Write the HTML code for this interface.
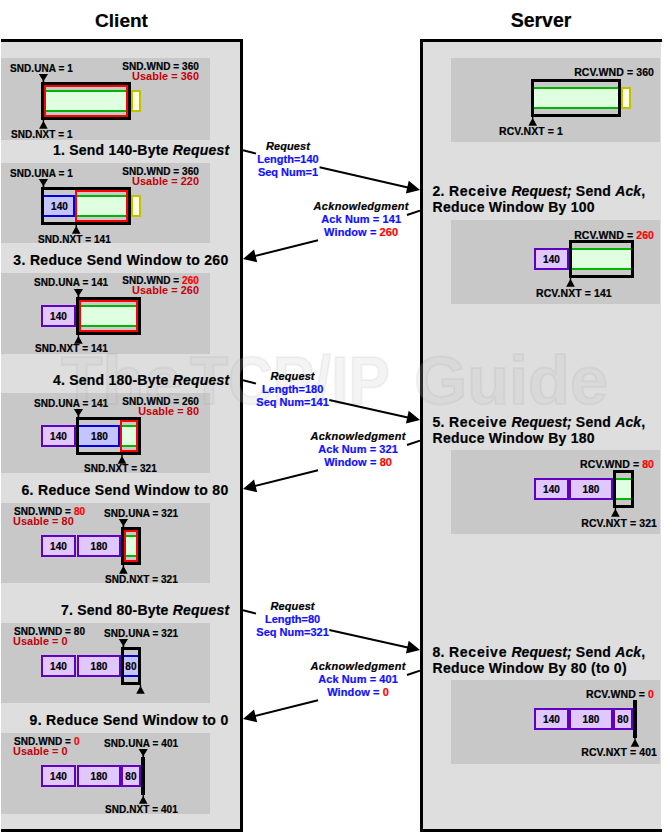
<!DOCTYPE html><html><head><meta charset="utf-8"><style>html,body{margin:0;padding:0;background:#fff;overflow:hidden}svg{display:block}text{font-family:"Liberation Sans",sans-serif;font-weight:bold;stroke-width:0.2px}</style></head><body>
<svg width="666" height="836" viewBox="0 0 666 836">
<text x="121.5" y="27" font-size="19" text-anchor="middle" fill="#000" stroke="#000" >Client</text>
<text x="541" y="27" font-size="19.5" text-anchor="middle" fill="#000" stroke="#000" >Server</text>
<rect x="1" y="42" width="239" height="787" fill="#dedede"/>
<rect x="1" y="39" width="242" height="3" fill="#000"/>
<rect x="240" y="39" width="3" height="793" fill="#000"/>
<rect x="1" y="829" width="242" height="3" fill="#000"/>
<rect x="423" y="42" width="238" height="787" fill="#dedede"/>
<rect x="420" y="39" width="242" height="3" fill="#000"/>
<rect x="420" y="39" width="3" height="793" fill="#000"/>
<rect x="420" y="829" width="242" height="3" fill="#000"/>
<rect x="1" y="58" width="209" height="82" fill="#c8c8c8"/>
<rect x="1" y="163" width="209" height="80" fill="#c8c8c8"/>
<rect x="1" y="273" width="209" height="81" fill="#c8c8c8"/>
<rect x="1" y="393" width="209" height="80" fill="#c8c8c8"/>
<rect x="1" y="503" width="209" height="80" fill="#c8c8c8"/>
<rect x="1" y="623" width="209" height="80" fill="#c8c8c8"/>
<rect x="1" y="733" width="209" height="81" fill="#c8c8c8"/>
<rect x="451" y="58" width="209" height="84" fill="#c8c8c8"/>
<rect x="451" y="220" width="209" height="84" fill="#c8c8c8"/>
<rect x="451" y="450" width="209" height="84" fill="#c8c8c8"/>
<rect x="451" y="680" width="209" height="84" fill="#c8c8c8"/>
<g font-size="68" fill="rgba(200,200,200,0.2)" stroke="rgba(120,120,120,0.08)">
<text x="61" y="404" textLength="121" lengthAdjust="spacingAndGlyphs" style="stroke-width:2px">The</text>
<text x="190" y="404" textLength="200" lengthAdjust="spacingAndGlyphs" style="stroke-width:2px">TCP/IP</text>
<text x="414" y="404" textLength="194" lengthAdjust="spacingAndGlyphs" style="stroke-width:2px">Guide</text>
</g>
<text x="229.5" y="154.7" font-size="14" text-anchor="end" fill="#000" stroke="#000" letter-spacing="0.22" >1. Send 140-Byte <tspan font-style="italic">Request</tspan></text>
<text x="228.6" y="265" font-size="14" text-anchor="end" fill="#000" stroke="#000" letter-spacing="0.33" >3. Reduce Send Window to 260</text>
<text x="229.5" y="384.7" font-size="14" text-anchor="end" fill="#000" stroke="#000" letter-spacing="0.22" >4. Send 180-Byte <tspan font-style="italic">Request</tspan></text>
<text x="228.6" y="495" font-size="14" text-anchor="end" fill="#000" stroke="#000" letter-spacing="0.33" >6. Reduce Send Window to 80</text>
<text x="229.5" y="614.7" font-size="14" text-anchor="end" fill="#000" stroke="#000" letter-spacing="0.22" >7. Send 80-Byte <tspan font-style="italic">Request</tspan></text>
<text x="228.6" y="725" font-size="14" text-anchor="end" fill="#000" stroke="#000" letter-spacing="0.33" >9. Reduce Send Window to 0</text>
<text x="432.5" y="196" font-size="14" text-anchor="start" fill="#000" stroke="#000" letter-spacing="0.27" >2. <tspan letter-spacing="0.77">Receive</tspan> <tspan font-style="italic" letter-spacing="0.05">Request;</tspan> Send <tspan font-style="italic" letter-spacing="0.05">Ack</tspan>,</text>
<text x="432.5" y="212" font-size="14" text-anchor="start" fill="#000" stroke="#000" letter-spacing="0.27" >Reduce Window By 100</text>
<text x="432.5" y="426.5" font-size="14" text-anchor="start" fill="#000" stroke="#000" letter-spacing="0.27" >5. <tspan letter-spacing="0.77">Receive</tspan> <tspan font-style="italic" letter-spacing="0.05">Request;</tspan> Send <tspan font-style="italic" letter-spacing="0.05">Ack</tspan>,</text>
<text x="432.5" y="442.5" font-size="14" text-anchor="start" fill="#000" stroke="#000" letter-spacing="0.27" >Reduce Window By 180</text>
<text x="432.5" y="656.5" font-size="14" text-anchor="start" fill="#000" stroke="#000" letter-spacing="0.27" >8. <tspan letter-spacing="0.77">Receive</tspan> <tspan font-style="italic" letter-spacing="0.05">Request;</tspan> Send <tspan font-style="italic" letter-spacing="0.05">Ack</tspan>,</text>
<text x="432.5" y="672.5" font-size="14" text-anchor="start" fill="#000" stroke="#000" letter-spacing="0.27" >Reduce Window By 80 (to 0)</text>
<text x="10" y="72.3" font-size="10" text-anchor="start" fill="#000" stroke="#000" letter-spacing="0.07" >SND.UNA = 1</text>
<text x="199" y="69.8" font-size="10" text-anchor="end" fill="#000" stroke="#000" letter-spacing="0.07" >SND.WND = 360</text>
<text x="199" y="79.8" font-size="10.9" text-anchor="end" fill="#c40008" stroke="none" letter-spacing="0.05" >Usable = 360</text>
<rect x="44" y="85" width="84" height="32" fill="#c9c9c9"/>
<rect x="44" y="85" width="84" height="32" fill="#ff0000"/>
<rect x="46" y="87" width="80" height="28" fill="#c9c9c9"/>
<rect x="46" y="90" width="80" height="22" fill="#00b400"/>
<rect x="46" y="92" width="80" height="18" fill="#e0ffe0"/>
<rect x="42.5" y="83.5" width="87" height="35" fill="none" stroke="#000" stroke-width="3"/>
<rect x="132.0" y="91.0" width="8" height="20" fill="#ffffe0" stroke="#c0c000" stroke-width="2"/>
<polygon points="38.8,74 48.0,74 44.3,80 44.3,82 42.5,82 42.5,80" fill="#000"/>
<polygon points="39.1,128.7 47.699999999999996,128.7 44.1,122 44.1,120 42.699999999999996,120 42.699999999999996,122" fill="#000"/>
<text x="11" y="137.7" font-size="10" text-anchor="start" fill="#000" stroke="#000" letter-spacing="0.07" >SND.NXT = 1</text>
<text x="10" y="177.3" font-size="10" text-anchor="start" fill="#000" stroke="#000" letter-spacing="0.07" >SND.UNA = 1</text>
<text x="199" y="174.8" font-size="10" text-anchor="end" fill="#000" stroke="#000" letter-spacing="0.07" >SND.WND = 360</text>
<text x="199" y="184.8" font-size="10.9" text-anchor="end" fill="#c40008" stroke="none" letter-spacing="0.05" >Usable = 220</text>
<rect x="44" y="190" width="84" height="32" fill="#c9c9c9"/>
<rect x="44" y="195" width="31" height="22" fill="#c4c4ff"/>
<rect x="44" y="195" width="31" height="2" fill="#0000e0"/>
<rect x="44" y="215" width="31" height="2" fill="#0000e0"/>
<rect x="73" y="195" width="2" height="22" fill="#0000e0"/>
<text x="59.5" y="209.5" font-size="10" text-anchor="middle" fill="#000" stroke="#000" letter-spacing="0.07" >140</text>
<rect x="75" y="190" width="53" height="32" fill="#ff0000"/>
<rect x="77" y="192" width="49" height="28" fill="#c9c9c9"/>
<rect x="77" y="195" width="49" height="22" fill="#00b400"/>
<rect x="77" y="197" width="49" height="18" fill="#e0ffe0"/>
<rect x="42.5" y="188.5" width="87" height="35" fill="none" stroke="#000" stroke-width="3"/>
<rect x="132.0" y="196.0" width="8" height="20" fill="#ffffe0" stroke="#c0c000" stroke-width="2"/>
<polygon points="38.8,179 48.0,179 44.3,185 44.3,187 42.5,187 42.5,185" fill="#000"/>
<polygon points="71.9,233.7 80.5,233.7 76.9,227 76.9,225 75.5,225 75.5,227" fill="#000"/>
<text x="38" y="242.8" font-size="10" text-anchor="start" fill="#000" stroke="#000" letter-spacing="0.07" >SND.NXT = 141</text>
<text x="34" y="286.3" font-size="10" text-anchor="start" fill="#000" stroke="#000" letter-spacing="0.07" >SND.UNA = 141</text>
<text x="199" y="284.2" font-size="10" text-anchor="end" fill="#000" stroke="#000" letter-spacing="0.07" >SND.WND = <tspan fill="#ff0000" stroke="#ff0000">260</tspan></text>
<text x="199" y="294" font-size="10.9" text-anchor="end" fill="#c40008" stroke="none" letter-spacing="0.05" >Usable = 260</text>
<rect x="42.0" y="306.0" width="33" height="20" fill="#e0c8ff" stroke="#6000c0" stroke-width="2"/>
<text x="58.5" y="319.5" font-size="10" text-anchor="middle" fill="#000" stroke="#000" letter-spacing="0.07" >140</text>
<rect x="79" y="300" width="59" height="32" fill="#c9c9c9"/>
<rect x="79" y="300" width="59" height="32" fill="#ff0000"/>
<rect x="81" y="302" width="55" height="28" fill="#c9c9c9"/>
<rect x="81" y="305" width="55" height="22" fill="#00b400"/>
<rect x="81" y="307" width="55" height="18" fill="#e0ffe0"/>
<rect x="77.5" y="298.5" width="62" height="35" fill="none" stroke="#000" stroke-width="3"/>
<polygon points="73.80000000000001,289 83.0,289 79.30000000000001,295 79.30000000000001,297 77.5,297 77.5,295" fill="#000"/>
<polygon points="74.10000000000001,343.7 82.7,343.7 79.10000000000001,337 79.10000000000001,335 77.7,335 77.7,337" fill="#000"/>
<text x="35" y="352" font-size="10" text-anchor="start" fill="#000" stroke="#000" letter-spacing="0.07" >SND.NXT = 141</text>
<text x="34" y="406.7" font-size="10" text-anchor="start" fill="#000" stroke="#000" letter-spacing="0.07" >SND.UNA = 141</text>
<text x="199" y="404.5" font-size="10" text-anchor="end" fill="#000" stroke="#000" letter-spacing="0.07" >SND.WND = 260</text>
<text x="199" y="414.5" font-size="10.9" text-anchor="end" fill="#c40008" stroke="none" letter-spacing="0.05" >Usable = 80</text>
<rect x="42.0" y="426.0" width="33" height="20" fill="#e0c8ff" stroke="#6000c0" stroke-width="2"/>
<text x="58.5" y="439.5" font-size="10" text-anchor="middle" fill="#000" stroke="#000" letter-spacing="0.07" >140</text>
<rect x="79" y="420" width="59" height="32" fill="#c9c9c9"/>
<rect x="79" y="425" width="41" height="22" fill="#c4c4ff"/>
<rect x="79" y="425" width="41" height="2" fill="#0000e0"/>
<rect x="79" y="445" width="41" height="2" fill="#0000e0"/>
<rect x="118" y="425" width="2" height="22" fill="#0000e0"/>
<text x="99.5" y="439.5" font-size="10" text-anchor="middle" fill="#000" stroke="#000" letter-spacing="0.07" >180</text>
<rect x="120" y="420" width="18" height="32" fill="#ff0000"/>
<rect x="122" y="422" width="14" height="28" fill="#c9c9c9"/>
<rect x="122" y="425" width="14" height="22" fill="#00b400"/>
<rect x="122" y="427" width="14" height="18" fill="#e0ffe0"/>
<rect x="77.5" y="418.5" width="62" height="35" fill="none" stroke="#000" stroke-width="3"/>
<polygon points="73.80000000000001,409 83.0,409 79.30000000000001,415 79.30000000000001,417 77.5,417 77.5,415" fill="#000"/>
<polygon points="117.7,463.7 126.3,463.7 122.7,457 122.7,455 121.3,455 121.3,457" fill="#000"/>
<text x="84" y="471.6" font-size="10" text-anchor="start" fill="#000" stroke="#000" letter-spacing="0.07" >SND.NXT = 321</text>
<text x="14" y="515" font-size="10" text-anchor="start" fill="#000" stroke="#000" letter-spacing="0.07" >SND.WND = <tspan fill="#ff0000" stroke="#ff0000">80</tspan></text>
<text x="13" y="524.6" font-size="10.9" text-anchor="start" fill="#c40008" stroke="none" letter-spacing="0.05" >Usable = 80</text>
<text x="104" y="517.3" font-size="10" text-anchor="start" fill="#000" stroke="#000" letter-spacing="0.07" >SND.UNA = 321</text>
<rect x="42.0" y="536.0" width="33" height="20" fill="#e0c8ff" stroke="#6000c0" stroke-width="2"/>
<text x="58.5" y="549.5" font-size="10" text-anchor="middle" fill="#000" stroke="#000" letter-spacing="0.07" >140</text>
<rect x="78.0" y="536.0" width="42" height="20" fill="#e0c8ff" stroke="#6000c0" stroke-width="2"/>
<text x="99.0" y="549.5" font-size="10" text-anchor="middle" fill="#000" stroke="#000" letter-spacing="0.07" >180</text>
<rect x="124" y="530" width="14" height="32" fill="#c9c9c9"/>
<rect x="124" y="530" width="14" height="32" fill="#ff0000"/>
<rect x="126" y="532" width="10" height="28" fill="#c9c9c9"/>
<rect x="126" y="535" width="10" height="22" fill="#00b400"/>
<rect x="126" y="537" width="10" height="18" fill="#e0ffe0"/>
<rect x="122.5" y="528.5" width="17" height="35" fill="none" stroke="#000" stroke-width="3"/>
<polygon points="118.80000000000001,519 128.0,519 124.30000000000001,525 124.30000000000001,527 122.5,527 122.5,525" fill="#000"/>
<polygon points="119.10000000000001,573.7 127.7,573.7 124.10000000000001,567 124.10000000000001,565 122.7,565 122.7,567" fill="#000"/>
<text x="105" y="582.6" font-size="10" text-anchor="start" fill="#000" stroke="#000" letter-spacing="0.07" >SND.NXT = 321</text>
<text x="14" y="635" font-size="10" text-anchor="start" fill="#000" stroke="#000" letter-spacing="0.07" >SND.WND = 80</text>
<text x="13" y="644.6" font-size="10.9" text-anchor="start" fill="#c40008" stroke="none" letter-spacing="0.05" >Usable = 0</text>
<text x="104" y="637.3" font-size="10" text-anchor="start" fill="#000" stroke="#000" letter-spacing="0.07" >SND.UNA = 321</text>
<rect x="42.0" y="656.0" width="33" height="20" fill="#e0c8ff" stroke="#6000c0" stroke-width="2"/>
<text x="58.5" y="669.5" font-size="10" text-anchor="middle" fill="#000" stroke="#000" letter-spacing="0.07" >140</text>
<rect x="78.0" y="656.0" width="42" height="20" fill="#e0c8ff" stroke="#6000c0" stroke-width="2"/>
<text x="99.0" y="669.5" font-size="10" text-anchor="middle" fill="#000" stroke="#000" letter-spacing="0.07" >180</text>
<rect x="124" y="650" width="14" height="32" fill="#c9c9c9"/>
<rect x="124" y="655" width="14" height="22" fill="#c4c4ff"/>
<rect x="124" y="655" width="14" height="2" fill="#0000e0"/>
<rect x="124" y="675" width="14" height="2" fill="#0000e0"/>
<text x="131.0" y="669.5" font-size="10" text-anchor="middle" fill="#000" stroke="#000" letter-spacing="0.07" >80</text>
<rect x="122.5" y="648.5" width="17" height="35" fill="none" stroke="#000" stroke-width="3"/>
<polygon points="118.80000000000001,639 128.0,639 124.30000000000001,645 124.30000000000001,647 122.5,647 122.5,645" fill="#000"/>
<polygon points="136.2,693.7 144.8,693.7 141.2,687 141.2,685 139.8,685 139.8,687" fill="#000"/>
<text x="14" y="745" font-size="10" text-anchor="start" fill="#000" stroke="#000" letter-spacing="0.07" >SND.WND = <tspan fill="#ff0000" stroke="#ff0000">0</tspan></text>
<text x="13" y="754.6" font-size="10.9" text-anchor="start" fill="#c40008" stroke="none" letter-spacing="0.05" >Usable = 0</text>
<text x="104" y="747.3" font-size="10" text-anchor="start" fill="#000" stroke="#000" letter-spacing="0.07" >SND.UNA = 401</text>
<rect x="42.0" y="766.0" width="33" height="20" fill="#e0c8ff" stroke="#6000c0" stroke-width="2"/>
<text x="58.5" y="779.5" font-size="10" text-anchor="middle" fill="#000" stroke="#000" letter-spacing="0.07" >140</text>
<rect x="78.0" y="766.0" width="42" height="20" fill="#e0c8ff" stroke="#6000c0" stroke-width="2"/>
<text x="99.0" y="779.5" font-size="10" text-anchor="middle" fill="#000" stroke="#000" letter-spacing="0.07" >180</text>
<rect x="122.0" y="766.0" width="18" height="20" fill="#e0c8ff" stroke="#6000c0" stroke-width="2"/>
<text x="131.0" y="779.5" font-size="10" text-anchor="middle" fill="#000" stroke="#000" letter-spacing="0.07" >80</text>
<rect x="141" y="757" width="4" height="38" fill="#000"/>
<polygon points="138.6,749 147.79999999999998,749 144.1,755 144.1,757 142.29999999999998,757 142.29999999999998,755" fill="#000"/>
<polygon points="138.89999999999998,803.7 147.5,803.7 143.89999999999998,797 143.89999999999998,795 142.5,795 142.5,797" fill="#000"/>
<text x="105" y="812.6" font-size="10" text-anchor="start" fill="#000" stroke="#000" letter-spacing="0.07" >SND.NXT = 401</text>
<text x="654" y="75.6" font-size="10.5" text-anchor="end" fill="#000" stroke="#000" letter-spacing="0.09" >RCV.WND = 360</text>
<rect x="534" y="82" width="84" height="32" fill="#c9c9c9"/>
<rect x="534" y="87" width="84" height="22" fill="#00b400"/>
<rect x="534" y="89" width="84" height="18" fill="#e0ffe0"/>
<rect x="532.5" y="80.5" width="87" height="35" fill="none" stroke="#000" stroke-width="3"/>
<rect x="622.0" y="88.0" width="8" height="20" fill="#ffffe0" stroke="#c0c000" stroke-width="2"/>
<polygon points="528.4000000000001,125.7 537.0,125.7 533.4000000000001,119 533.4000000000001,117 532.0,117 532.0,119" fill="#000"/>
<text x="499" y="134.5" font-size="10.5" text-anchor="start" fill="#000" stroke="#000" letter-spacing="0.09" >RCV.NXT = 1</text>
<text x="654" y="238.5" font-size="10.5" text-anchor="end" fill="#000" stroke="#000" letter-spacing="0.09" >RCV.WND = <tspan fill="#ff0000" stroke="#ff0000">260</tspan></text>
<rect x="535.0" y="249.0" width="33" height="20" fill="#e0c8ff" stroke="#6000c0" stroke-width="2"/>
<text x="551.5" y="262.5" font-size="10" text-anchor="middle" fill="#000" stroke="#000" letter-spacing="0.07" >140</text>
<rect x="572" y="243" width="59" height="32" fill="#c9c9c9"/>
<rect x="572" y="248" width="59" height="22" fill="#00b400"/>
<rect x="572" y="250" width="59" height="18" fill="#e0ffe0"/>
<rect x="570.5" y="241.5" width="62" height="35" fill="none" stroke="#000" stroke-width="3"/>
<polygon points="566.2,286.7 574.8,286.7 571.2,280 571.2,278 569.8,278 569.8,280" fill="#000"/>
<text x="536" y="296.5" font-size="10.5" text-anchor="start" fill="#000" stroke="#000" letter-spacing="0.09" >RCV.NXT = 141</text>
<text x="654" y="468.3" font-size="10.5" text-anchor="end" fill="#000" stroke="#000" letter-spacing="0.09" >RCV.WND = <tspan fill="#ff0000" stroke="#ff0000">80</tspan></text>
<rect x="535.0" y="479.0" width="33" height="20" fill="#e0c8ff" stroke="#6000c0" stroke-width="2"/>
<text x="551.5" y="492.5" font-size="10" text-anchor="middle" fill="#000" stroke="#000" letter-spacing="0.07" >140</text>
<rect x="570.0" y="479.0" width="42" height="20" fill="#e0c8ff" stroke="#6000c0" stroke-width="2"/>
<text x="591.0" y="492.5" font-size="10" text-anchor="middle" fill="#000" stroke="#000" letter-spacing="0.07" >180</text>
<rect x="616" y="473" width="15" height="32" fill="#c9c9c9"/>
<rect x="616" y="478" width="15" height="22" fill="#00b400"/>
<rect x="616" y="480" width="15" height="18" fill="#e0ffe0"/>
<rect x="614.5" y="471.5" width="18" height="35" fill="none" stroke="#000" stroke-width="3"/>
<polygon points="611.1,516.7 619.6999999999999,516.7 616.1,510 616.1,508 614.6999999999999,508 614.6999999999999,510" fill="#000"/>
<text x="657" y="526.5" font-size="10.5" text-anchor="end" fill="#000" stroke="#000" letter-spacing="0.09" >RCV.NXT = 321</text>
<text x="654" y="698.3" font-size="10.5" text-anchor="end" fill="#000" stroke="#000" letter-spacing="0.09" >RCV.WND = <tspan fill="#ff0000" stroke="#ff0000">0</tspan></text>
<rect x="535.0" y="709.0" width="33" height="20" fill="#e0c8ff" stroke="#6000c0" stroke-width="2"/>
<text x="551.5" y="722.5" font-size="10" text-anchor="middle" fill="#000" stroke="#000" letter-spacing="0.07" >140</text>
<rect x="570.0" y="709.0" width="42" height="20" fill="#e0c8ff" stroke="#6000c0" stroke-width="2"/>
<text x="591.0" y="722.5" font-size="10" text-anchor="middle" fill="#000" stroke="#000" letter-spacing="0.07" >180</text>
<rect x="614.0" y="709.0" width="18" height="20" fill="#e0c8ff" stroke="#6000c0" stroke-width="2"/>
<text x="623.0" y="722.5" font-size="10" text-anchor="middle" fill="#000" stroke="#000" letter-spacing="0.07" >80</text>
<rect x="633" y="700" width="4" height="38" fill="#000"/>
<polygon points="630.7,746.7 639.3,746.7 635.7,740 635.7,738 634.3,738 634.3,740" fill="#000"/>
<text x="657" y="755.6" font-size="10.5" text-anchor="end" fill="#000" stroke="#000" letter-spacing="0.09" >RCV.NXT = 401</text>
<line x1="243" y1="150.3" x2="256" y2="153.6" stroke="#000" stroke-width="2"/>
<text x="288" y="149.7" font-size="11" text-anchor="middle" fill="#000" stroke="#000" letter-spacing="0.1" font-style="italic">Request</text>
<text x="288" y="162.8" font-size="11" text-anchor="middle" fill="#1010ff" stroke="#1010ff" >Length=140</text>
<text x="288" y="176.3" font-size="11" text-anchor="middle" fill="#1010ff" stroke="#1010ff" >Seq Num=1</text>
<line x1="319.6" y1="167.3" x2="410" y2="188" stroke="#000" stroke-width="2"/>
<polygon points="420,190 405.89,193.47 408.75,180.79" fill="#000"/>
<line x1="420" y1="210.6" x2="407" y2="215" stroke="#000" stroke-width="2"/>
<text x="361.2" y="209.7" font-size="11" text-anchor="middle" fill="#000" stroke="#000" letter-spacing="0.3" font-style="italic">Acknowledgment</text>
<text x="361.2" y="222.5" font-size="11" text-anchor="middle" fill="#1010ff" stroke="#1010ff" letter-spacing="0.1" >Ack Num = 141</text>
<text x="361.2" y="236.4" font-size="11" text-anchor="middle" fill="#1010ff" stroke="#1010ff" letter-spacing="0.1" >Window = <tspan fill="#ff0000" stroke="#ff0000">260</tspan></text>
<line x1="318" y1="240.3" x2="253" y2="256.5" stroke="#000" stroke-width="2"/>
<polygon points="243,259 254.04,249.55 257.19,262.16" fill="#000"/>
<line x1="243" y1="380.3" x2="256" y2="383.6" stroke="#000" stroke-width="2"/>
<text x="292.6" y="379.7" font-size="11" text-anchor="middle" fill="#000" stroke="#000" letter-spacing="0.1" font-style="italic">Request</text>
<text x="292.6" y="392.8" font-size="11" text-anchor="middle" fill="#1010ff" stroke="#1010ff" >Length=180</text>
<text x="292.6" y="406.3" font-size="11" text-anchor="middle" fill="#1010ff" stroke="#1010ff" >Seq Num=141</text>
<line x1="329.3" y1="400" x2="410" y2="418" stroke="#000" stroke-width="2"/>
<polygon points="420,420 405.91,423.55 408.70,410.85" fill="#000"/>
<line x1="420" y1="440.6" x2="407" y2="445" stroke="#000" stroke-width="2"/>
<text x="358.1" y="439.7" font-size="11" text-anchor="middle" fill="#000" stroke="#000" letter-spacing="0.3" font-style="italic">Acknowledgment</text>
<text x="358.1" y="452.5" font-size="11" text-anchor="middle" fill="#1010ff" stroke="#1010ff" letter-spacing="0.1" >Ack Num = 321</text>
<text x="358.1" y="466.4" font-size="11" text-anchor="middle" fill="#1010ff" stroke="#1010ff" letter-spacing="0.1" >Window = <tspan fill="#ff0000" stroke="#ff0000">80</tspan></text>
<line x1="318" y1="470.3" x2="253" y2="486.5" stroke="#000" stroke-width="2"/>
<polygon points="243,489 254.04,479.55 257.19,492.16" fill="#000"/>
<line x1="243" y1="610.3" x2="256" y2="613.6" stroke="#000" stroke-width="2"/>
<text x="292.6" y="609.7" font-size="11" text-anchor="middle" fill="#000" stroke="#000" letter-spacing="0.1" font-style="italic">Request</text>
<text x="292.6" y="622.8" font-size="11" text-anchor="middle" fill="#1010ff" stroke="#1010ff" >Length=80</text>
<text x="292.6" y="636.3" font-size="11" text-anchor="middle" fill="#1010ff" stroke="#1010ff" >Seq Num=321</text>
<line x1="329.3" y1="630" x2="410" y2="648" stroke="#000" stroke-width="2"/>
<polygon points="420,650 405.91,653.55 408.70,640.85" fill="#000"/>
<line x1="420" y1="670.6" x2="407" y2="675" stroke="#000" stroke-width="2"/>
<text x="358.1" y="669.7" font-size="11" text-anchor="middle" fill="#000" stroke="#000" letter-spacing="0.3" font-style="italic">Acknowledgment</text>
<text x="358.1" y="682.5" font-size="11" text-anchor="middle" fill="#1010ff" stroke="#1010ff" letter-spacing="0.1" >Ack Num = 401</text>
<text x="358.1" y="696.4" font-size="11" text-anchor="middle" fill="#1010ff" stroke="#1010ff" letter-spacing="0.1" >Window = <tspan fill="#ff0000" stroke="#ff0000">0</tspan></text>
<line x1="318" y1="700.3" x2="253" y2="716.5" stroke="#000" stroke-width="2"/>
<polygon points="243,719 254.04,709.55 257.19,722.16" fill="#000"/>
</svg></body></html>
